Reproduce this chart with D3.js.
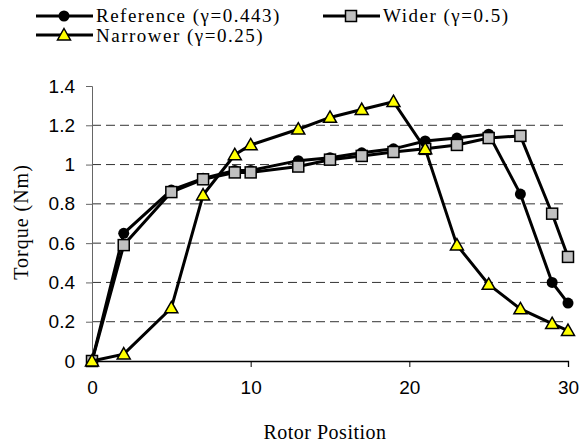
<!DOCTYPE html>
<html><head><meta charset="utf-8">
<script src="https://cdn.jsdelivr.net/npm/d3@7"></script>
<style>
body{margin:0;background:#fff}
.serif{font-family:"Liberation Serif","Times New Roman",Times,serif}
.sans{font-family:"Liberation Sans",Arial,Helvetica,sans-serif}
</style>
</head><body>
<script>
const positions = [0, 2, 5, 7, 9, 10, 13, 15, 17, 19, 21, 23, 25, 27, 29, 30];
const referenceVals = [0, 0.65, 0.87, 0.93, 0.97, 0.97, 1.02, 1.035, 1.06, 1.08, 1.12, 1.135, 1.155, 0.85, 0.40, 0.295];
const widerVals = [0, 0.59, 0.86, 0.925, 0.96, 0.96, 0.99, 1.025, 1.044, 1.064, 1.08, 1.10, 1.135, 1.146, 0.75, 0.53];
const narrowerVals = [0, 0.035, 0.27, 0.845, 1.05, 1.10, 1.18, 1.24, 1.28, 1.32, 1.08, 0.59, 0.39, 0.265, 0.19, 0.155];
const seriesNames = ["Reference (\u03b3=0.443)", "Wider (\u03b3=0.5)", "Narrower (\u03b3=0.25)"];
const yTicks = [0, 0.2, 0.4, 0.6, 0.8, 1, 1.2, 1.4];
const xTicks = [0, 10, 20, 30];

const W = 580, H = 446;
const svg = d3.select("body").append("svg").attr("width", W).attr("height", H);
const x = d3.scaleLinear().domain([0, 30]).range([92, 568]);
const y = d3.scaleLinear().domain([0, 1.4]).range([361, 86]);

// gridlines
svg.append("g").selectAll("line").data(yTicks.filter(v => v > 0 && v < 1.4)).join("line")
  .attr("x1", x(0)).attr("x2", x(30)).attr("y1", d => y(d)).attr("y2", d => y(d))
  .attr("stroke", "#333").attr("stroke-width", 1).attr("stroke-dasharray", "9,5");

// y axis
const yAxis = svg.append("g").attr("transform", `translate(${x(0)},0)`)
  .call(d3.axisLeft(y).tickValues(yTicks).tickSize(6).tickPadding(11).tickFormat(d => String(d)));
yAxis.attr("font-family", null).attr("font-size", null);
yAxis.select(".domain").attr("stroke", "#666");
yAxis.selectAll(".tick line").attr("stroke", "#666");
yAxis.selectAll("text").attr("class", "sans").attr("font-size", 19).attr("fill", "#000");

// x axis
const xAxis = svg.append("g").attr("transform", `translate(0,${y(0)})`)
  .call(d3.axisBottom(x).tickValues(xTicks).tickSize(6).tickPadding(14).tickFormat(d => String(d)));
xAxis.attr("font-family", null).attr("font-size", null);
xAxis.select(".domain").attr("stroke", "#000").attr("stroke-width", 1.3);
xAxis.selectAll(".tick line").attr("stroke", "#000");
xAxis.selectAll("text").attr("class", "sans").attr("font-size", 19).attr("fill", "#000");

// axis titles
svg.append("text").attr("class", "serif").attr("x", 325).attr("y", 439).attr("text-anchor", "middle")
  .attr("font-size", 20).attr("letter-spacing", 0.5).attr("fill", "#000")
  .text("Rotor Position");
svg.append("text").attr("class", "serif").attr("transform", "translate(28,222) rotate(-90)").attr("text-anchor", "middle")
  .attr("font-size", 20).attr("letter-spacing", 1).attr("fill", "#000")
  .text("Torque (Nm)");

const line = d3.line().x(d => x(d[0])).y(d => y(d[1]));
const series = [
  {name: seriesNames[0], vals: referenceVals, marker: "circle"},
  {name: seriesNames[1], vals: widerVals, marker: "square"},
  {name: seriesNames[2], vals: narrowerVals, marker: "triangle"}
];

function drawMarker(g, type, cx, cy) {
  if (type === "circle") {
    g.append("circle").attr("cx", cx).attr("cy", cy).attr("r", 5.5).attr("fill", "#000");
  } else if (type === "square") {
    g.append("rect").attr("x", cx - 5.5).attr("y", cy - 5.5).attr("width", 11).attr("height", 11)
      .attr("fill", "#c0c0c0").attr("stroke", "#000").attr("stroke-width", 1.5);
  } else {
    const s = 6.5;
    g.append("path").attr("d", `M${cx},${cy - s}L${cx + s},${cy + s * 0.75}L${cx - s},${cy + s * 0.75}Z`)
      .attr("fill", "#ffff00").attr("stroke", "#000").attr("stroke-width", 1.5).attr("stroke-linejoin", "miter");
  }
}

series.forEach(s => {
  const pts = positions.map((p, i) => [p, s.vals[i]]);
  const g = svg.append("g");
  g.append("path").attr("d", line(pts)).attr("fill", "none").attr("stroke", "#000").attr("stroke-width", 3);
  pts.forEach(p => drawMarker(g, s.marker, x(p[0]), y(p[1])));
});

// legend
const legendItems = [
  {s: series[0], lx: 36, ly: 16, ty: 21.5},
  {s: series[1], lx: 323, ly: 16, ty: 21.5},
  {s: series[2], lx: 36, ly: 35, ty: 42}
];
legendItems.forEach(it => {
  const g = svg.append("g");
  g.append("line").attr("x1", it.lx).attr("x2", it.lx + 57).attr("y1", it.ly).attr("y2", it.ly)
    .attr("stroke", "#000").attr("stroke-width", 3);
  drawMarker(g, it.s.marker, it.lx + 28, it.ly);
  g.append("text").attr("class", "serif").attr("x", it.lx + 60).attr("y", it.ty)
    .attr("font-size", 19).attr("letter-spacing", 1.5).attr("fill", "#000")
    .text(it.s.name);
});
</script>
</body></html>
